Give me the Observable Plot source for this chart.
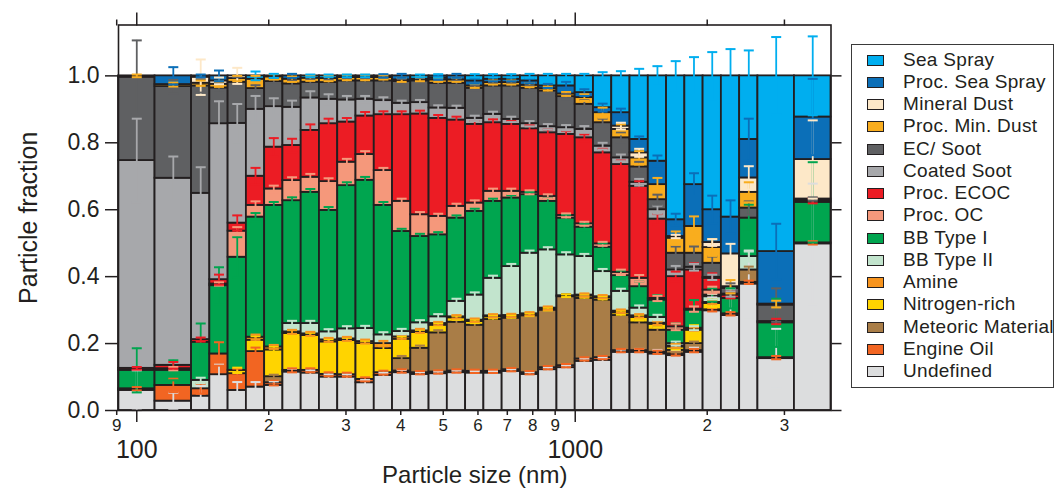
<!DOCTYPE html>
<html>
<head>
<meta charset="utf-8">
<script src="https://cdn.jsdelivr.net/npm/d3@7"></script>
<script src="https://cdn.jsdelivr.net/npm/@observablehq/plot@0.6"></script>
<style>
  body { margin: 0; background: #fff; font-family: "Liberation Sans", Arial, sans-serif; }
  #wrap { position: relative; width: 1057px; height: 490px; overflow: hidden; }
  #legend { position: absolute; left: 851px; top: 44px; width: 203px; height: 344px;
            border: 1.5px solid #3a3a3a; box-sizing: border-box; background: #fff; }
  .row { position: absolute; left: 0; height: 22px; width: 200px; }
  .sw { position: absolute; left: 15px; top: 6px; width: 15px; height: 9px; border: 1.2px solid #231f20; }
  .lb { position: absolute; left: 51px; top: 0; line-height: 22px; font-size: 19px; letter-spacing: 0.3px; color: #231f20; white-space: nowrap; }
</style>
</head>
<body>
<div id="wrap"><div id="chart"></div><div id="legend"></div></div>
<script>
// ---------- data ----------
// bin edges (nm), 35 bars
const sizeEdges = [90.85,110.07,133.35,146.78,161.56,177.83,195.73,215.44,237.14,261.02,287.30,316.23,348.07,383.12,421.70,464.16,510.90,562.34,618.97,681.29,749.89,825.40,908.52,1000,1100.7,1211.5,1333.5,1467.8,1615.6,1778.3,1957.3,2154.4,2371.4,2610.2,3162.3,3831.2];

// category names (legend order, top of stack first)
const categories = ["Sea Spray","Proc. Sea Spray","Mineral Dust","Proc. Min. Dust","EC/ Soot","Coated Soot","Proc. ECOC","Proc. OC","BB Type I","BB Type II","Amine","Nitrogen-rich","Meteoric Material","Engine Oil","Undefined"];
const colors = ["#00aeef","#0b6fb8","#fde8c8","#f9ad1e","#5f6062","#a7a8ab","#ec1c24","#f5987b","#00a54f","#c2e4cd","#f7941e","#ffd400","#a97d47","#f26522","#dcddde"];

// fractions per bar
const undefinedFrac = [0.060,0.028,0.043,0.107,0.060,0.070,0.075,0.115,0.112,0.100,0.100,0.083,0.105,0.113,0.108,0.110,0.113,0.112,0.112,0.117,0.108,0.122,0.128,0.147,0.150,0.174,0.174,0.169,0.164,0.174,0.298,0.284,0.378,0.155,0.498];
const engineOil = [0.005,0.047,0.022,0.062,0.050,0.106,0.008,0.005,0.008,0.008,0.007,0.010,0.008,0.005,0.005,0.005,0.005,0.005,0.005,0.005,0.005,0.006,0.006,0.007,0.008,0.005,0.005,0.005,0.005,0.005,0.003,0.005,0.005,0.003,0.003];
const meteoric = [0,0,0,0,0,0,0.018,0,0,0,0,0,0,0.037,0.073,0.117,0.146,0.138,0.155,0.154,0.170,0.172,0.206,0.181,0.172,0.105,0.083,0.066,0.011,0.021,0,0,0.037,0,0];
const nitrogenRich = [0,0,0,0,0.010,0.034,0.080,0.110,0.104,0.097,0.102,0.107,0.072,0.058,0.047,0.023,0.013,0.011,0.008,0.005,0.003,0.003,0.003,0.007,0.007,0.008,0.016,0.018,0.010,0.040,0.019,0,0,0,0];
const amine = [0,0,0,0,0,0.009,0.009,0.005,0.005,0.006,0.005,0.006,0.015,0.007,0.005,0.005,0.003,0.004,0.003,0.003,0.003,0.003,0,0.003,0.003,0.005,0.005,0.003,0.003,0.003,0.003,0,0,0,0];
const bbType2 = [0,0,0.025,0,0,0,0,0.025,0.031,0.024,0.030,0.039,0.026,0.016,0.024,0.020,0.046,0.075,0.112,0.146,0.181,0.174,0.122,0.115,0.075,0.059,0.023,0.017,0.007,0.003,0.017,0,0.040,0,0];
const bbType1 = [0.055,0.045,0.114,0.204,0.338,0.359,0.423,0.367,0.392,0.363,0.428,0.443,0.387,0.299,0.258,0.245,0.249,0.250,0.230,0.205,0.175,0.145,0.110,0.088,0.073,0.047,0.064,0.052,0.040,0.054,0.005,0.046,0.115,0.104,0.121];
const procOC = [0,0.005,0,0.005,0.078,0.035,0.049,0.060,0.045,0.086,0.070,0.077,0.104,0.090,0.065,0.055,0.035,0.025,0.030,0.020,0.007,0.015,0.008,0.010,0.010,0.010,0.025,0.005,0.010,0.003,0.015,0,0,0,0];
const procECOC = [0.006,0.010,0.008,0.013,0.024,0.087,0.125,0.105,0.140,0.173,0.120,0.115,0.167,0.259,0.301,0.293,0.258,0.235,0.205,0.200,0.190,0.190,0.242,0.257,0.272,0.322,0.275,0.237,0.150,0.117,0.035,0.010,0,0.004,0.005];
const coatedSoot = [0.621,0.559,0.437,0.466,0.298,0.200,0.121,0.114,0.097,0.073,0.066,0.050,0.042,0.034,0.034,0.031,0.035,0.018,0.025,0.015,0.015,0.018,0.020,0.025,0.020,0.020,0.012,0.028,0.020,0.008,0.003,0.003,0,0,0];
const ecSoot = [0.249,0.274,0.321,0.107,0.123,0.062,0.075,0.070,0.047,0.050,0.057,0.055,0.059,0.065,0.065,0.074,0.075,0.090,0.085,0.100,0.106,0.107,0.093,0.075,0.070,0.060,0.046,0.030,0.050,0.042,0.042,0.017,0.030,0.049,0.005];
const procMinDust = [0.004,0.006,0.008,0.011,0.011,0.028,0.014,0.014,0.012,0.012,0.010,0.010,0.010,0.005,0.005,0.010,0.010,0.007,0.010,0.010,0.009,0.007,0.008,0.020,0.030,0.025,0.027,0.045,0.045,0.080,0.047,0.005,0.047,0.003,0];
const mineralDust = [0,0,0.018,0.010,0.008,0,0,0,0,0,0,0,0,0,0,0,0,0,0,0,0,0,0,0,0,0.010,0.015,0,0.005,0,0.015,0.098,0.043,0,0.118];
const procSeaSpray = [0,0.026,0.004,0.015,0,0,0,0.010,0,0,0,0,0.005,0.012,0,0.006,0.012,0.015,0.010,0.010,0.013,0.008,0.024,0.015,0.015,0.040,0.040,0.070,0.050,0.125,0.098,0.110,0.115,0.157,0.127];
const seaSpray = [0,0,0,0,0,0.010,0.003,0,0.007,0.008,0.005,0.005,0,0,0.010,0.006,0,0.015,0.010,0.010,0.015,0.030,0.030,0.050,0.095,0.110,0.190,0.255,0.430,0.325,0.400,0.422,0.190,0.525,0.123];

// uncertainties per bar
const errUndefined = [0.060,0.025,0.030,0.030,0.025,0.015,0.012,0.010,0.008,0.008,0.008,0.008,0.008,0.008,0.006,0.006,0.006,0.006,0.006,0.006,0.006,0.006,0.006,0.008,0.008,0.008,0.010,0.012,0.015,0.015,0.040,0.080,0.100,0.089,0.180];
const errEngineOil = [0.005,0.020,0.015,0.035,0.015,0.012,0.008,0.006,0.006,0.006,0.006,0.006,0.006,0.005,0.005,0.005,0.005,0.005,0.005,0.005,0.005,0.005,0.005,0.005,0.005,0.005,0.005,0.005,0.005,0.005,0.005,0.005,0.005,0.005,0.005];
const errMeteoric = [0,0,0,0,0,0,0.006,0,0,0,0,0,0,0.008,0.008,0.008,0.008,0.008,0.008,0.008,0.008,0.008,0.008,0.008,0.008,0.008,0.008,0.008,0.006,0.006,0,0,0.010,0,0];
const errNitrogenRich = [0,0,0,0,0.008,0.012,0.010,0.010,0.008,0.008,0.008,0.008,0.008,0.008,0.008,0.006,0.006,0.005,0.005,0.004,0.004,0.004,0.004,0.005,0.005,0.006,0.008,0.010,0.008,0.015,0.012,0,0,0,0];
const errAmine = [0,0,0,0,0,0.008,0.006,0.006,0.006,0.006,0.006,0.006,0.008,0.006,0.006,0.005,0.005,0.005,0.005,0.005,0.005,0.005,0,0.005,0.005,0.005,0.005,0.005,0.005,0.005,0.005,0,0,0,0];
const errBBType2 = [0,0,0.008,0,0,0,0,0.008,0.008,0.008,0.008,0.008,0.008,0.008,0.008,0.008,0.008,0.008,0.008,0.008,0.008,0.008,0.008,0.008,0.008,0.008,0.008,0.008,0.006,0.006,0.008,0,0.015,0,0];
const errBBType1 = [0.066,0.030,0.056,0.055,0.060,0.012,0.010,0.010,0.010,0.010,0.010,0.010,0.010,0.008,0.008,0.008,0.008,0.008,0.008,0.008,0.008,0.010,0.010,0.010,0.012,0.015,0.015,0.015,0.020,0.030,0.020,0.030,0.040,0.072,0.120];
const errProcOC = [0,0.005,0,0.005,0.012,0.012,0.010,0.010,0.010,0.010,0.010,0.010,0.008,0.008,0.008,0.008,0.008,0.008,0.008,0.008,0.006,0.006,0.006,0.006,0.006,0.008,0.010,0.008,0.010,0.008,0.010,0,0,0,0];
const errProcECOC = [0.004,0.010,0.006,0.015,0.023,0.025,0.027,0.020,0.018,0.015,0.012,0.012,0.010,0.010,0.010,0.010,0.010,0.010,0.010,0.010,0.010,0.010,0.010,0.010,0.012,0.012,0.015,0.015,0.015,0.020,0.015,0.010,0,0.008,0.008];
const errCoatedSoot = [0.125,0.065,0.078,0.067,0.058,0.040,0.025,0.020,0.020,0.015,0.012,0.010,0.010,0.008,0.008,0.008,0.008,0.008,0.008,0.008,0.008,0.008,0.008,0.010,0.010,0.010,0.010,0.012,0.012,0.010,0.008,0.008,0,0,0];
const errEcSoot = [0.110,0.020,0.020,0.015,0.015,0.010,0.010,0.010,0.008,0.008,0.008,0.008,0.008,0.008,0.008,0.008,0.008,0.008,0.008,0.008,0.008,0.008,0.008,0.012,0.012,0.015,0.015,0.015,0.020,0.020,0.020,0.015,0.020,0.050,0.005];
const errProcMinDust = [0.004,0.006,0.008,0.008,0.008,0.010,0.008,0.008,0.008,0.008,0.008,0.008,0.006,0.006,0.006,0.006,0.006,0.006,0.006,0.006,0.006,0.006,0.006,0.010,0.015,0.015,0.020,0.020,0.020,0.030,0.025,0.020,0.030,0.010,0];
const errMineralDust = [0,0,0.053,0.010,0.024,0,0,0,0,0,0,0,0,0,0,0,0,0,0,0,0,0,0,0,0,0.010,0.012,0,0.005,0,0.010,0.030,0.035,0,0.117];
const errProcSeaSpray = [0,0.026,0.004,0.016,0,0,0,0.006,0,0,0,0,0.005,0.006,0,0.005,0.006,0.008,0.006,0.006,0.007,0.006,0.012,0.010,0.012,0.012,0.009,0.017,0.018,0.034,0.042,0.050,0.062,0.083,0.114];
const errSeaSpray = [0,0,0,0,0,0.013,0.006,0,0.004,0.004,0.004,0.004,0,0,0.004,0.005,0,0.005,0.005,0.005,0.006,0.006,0.006,0.006,0.011,0.014,0.021,0.029,0.044,0.056,0.071,0.080,0.076,0.116,0.118];

const yTicks = [0, 0.2, 0.4, 0.6, 0.8, 1.0];
const minorTicks = [90, 200, 300, 400, 500, 600, 700, 800, 900, 2000, 3000];
const minorLabels = ["9", "2", "3", "4", "5", "6", "7", "8", "9", "2", "3"];
const majorTicks = [100, 1000];
const majorLabels = ["100", "1000"];

// ---------- build stacked table (bottom -> top) ----------
const stack = [
  ["Undefined", undefinedFrac, errUndefined],
  ["Engine Oil", engineOil, errEngineOil],
  ["Meteoric Material", meteoric, errMeteoric],
  ["Nitrogen-rich", nitrogenRich, errNitrogenRich],
  ["Amine", amine, errAmine],
  ["BB Type II", bbType2, errBBType2],
  ["BB Type I", bbType1, errBBType1],
  ["Proc. OC", procOC, errProcOC],
  ["Proc. ECOC", procECOC, errProcECOC],
  ["Coated Soot", coatedSoot, errCoatedSoot],
  ["EC/ Soot", ecSoot, errEcSoot],
  ["Proc. Min. Dust", procMinDust, errProcMinDust],
  ["Mineral Dust", mineralDust, errMineralDust],
  ["Proc. Sea Spray", procSeaSpray, errProcSeaSpray],
  ["Sea Spray", seaSpray, errSeaSpray]
];
const rects = [], errs = [];
for (let i = 0; i < sizeEdges.length - 1; i++) {
  let cum = 0;
  for (const [name, vals, ev] of stack) {
    const v = vals[i];
    if (v > 0) {
      rects.push({lo: sizeEdges[i], hi: sizeEdges[i + 1], y1: cum, y2: cum + v, cat: name});
      const top = cum + v, e = ev[i];
      if (e > 0) errs.push({x: Math.sqrt(sizeEdges[i] * sizeEdges[i + 1]), lo: top - e, hi: top + e, cat: name});
      cum += v;
    }
  }
}
const minorTable = minorTicks.map((t, i) => ({t, label: minorLabels[i]}));
const majorTable = majorTicks.map((t, i) => ({t, label: majorLabels[i]}));

const capSymbol = {draw(ctx, size) { const w = Math.sqrt(size / Math.PI); ctx.moveTo(-w, 0); ctx.lineTo(w, 0); }};
const ink = "#231f20";

const chart = Plot.plot({
  width: 1057, height: 490,
  marginLeft: 118, marginRight: 226.5, marginTop: 24.5, marginBottom: 80,
  style: {fontFamily: "'Liberation Sans', Arial, sans-serif", color: ink, background: "white", overflow: "visible"},
  x: {type: "log", domain: [sizeEdges[0], sizeEdges[sizeEdges.length - 1]]},
  y: {domain: [0, 1.152]},
  color: {domain: categories, range: colors},
  marks: [
    Plot.rect(rects, {x1: "lo", x2: "hi", y1: "y1", y2: "y2", fill: "cat", stroke: ink, strokeWidth: 1.8}),
    Plot.ruleX(errs, {x: "x", y1: "lo", y2: "hi", stroke: "cat", strokeWidth: 1.8}),
    Plot.dot(errs, {x: "x", y: "hi", symbol: capSymbol, r: 5, stroke: "cat", fill: "none", strokeWidth: 2}),
    Plot.dot(errs, {x: "x", y: "lo", symbol: capSymbol, r: 5, stroke: "cat", fill: "none", strokeWidth: 2}),
    Plot.frame({stroke: ink, strokeWidth: 1.6}),
    Plot.axisY({ticks: yTicks, tickSize: 13, tickPadding: 6, tickFormat: d3.format(".1f"), fontSize: 23, label: null, strokeWidth: 1.5}),
    Plot.axisY({anchor: "right", ticks: yTicks, tickSize: 10, tickFormat: () => "", label: null, strokeWidth: 1.5}),
    Plot.axisX({ticks: minorTicks, tickSize: 5, tickFormat: () => "", label: null, strokeWidth: 1.5}),
    Plot.axisX({ticks: majorTicks, tickSize: 12, tickFormat: () => "", label: null, strokeWidth: 1.5}),
    Plot.axisX({anchor: "top", ticks: minorTicks, tickSize: 6, tickFormat: () => "", label: null, strokeWidth: 1.5}),
    Plot.axisX({anchor: "top", ticks: majorTicks, tickSize: 13, tickFormat: () => "", label: null, strokeWidth: 1.5}),
    Plot.text(minorTable, {x: "t", text: "label", frameAnchor: "bottom", lineAnchor: "middle", textAnchor: "middle", dy: 15, fontSize: 17, fill: ink}),
    Plot.text(majorTable, {x: "t", text: "label", frameAnchor: "bottom", lineAnchor: "middle", textAnchor: "middle", dy: 39, fontSize: 25, fill: ink}),
    Plot.text(["Particle fraction"], {text: d => d, frameAnchor: "left", textAnchor: "middle", lineAnchor: "middle", rotate: -90, dx: -90, fontSize: 25, fill: ink}),
    Plot.text(["Particle size (nm)"], {text: d => d, frameAnchor: "bottom", textAnchor: "middle", lineAnchor: "middle", dy: 65, fontSize: 24, fill: ink})
  ]
});
document.getElementById("chart").appendChild(chart);

// ---------- legend ----------
const legend = document.getElementById("legend");
categories.forEach((c, i) => {
  const row = document.createElement("div");
  row.className = "row";
  row.style.top = (3.5 + i * 22.26) + "px";
  row.innerHTML = `<span class="sw" style="background:${colors[i]}"></span><span class="lb">${c}</span>`;
  legend.appendChild(row);
});
</script>
</body>
</html>
